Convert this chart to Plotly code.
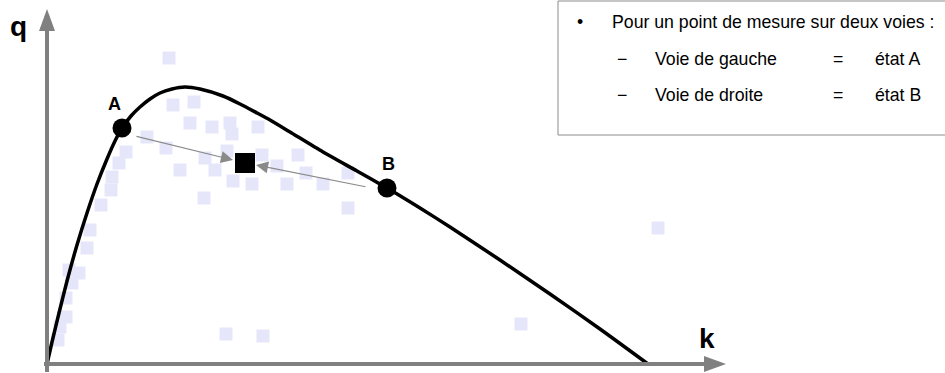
import plotly.graph_objects as go

# ---- data (k = density, q = flow) ----
curve_k = [0, 5, 12, 20, 30, 40, 50, 60, 68, 75, 84, 93, 103, 113,
           125, 138, 153, 176, 193, 210, 223, 243, 276, 310, 340, 373, 403, 453, 503, 553, 601]
curve_q = [0, 22, 51, 83, 119, 151, 180, 205, 223, 236, 248, 257, 265, 271,
           275, 277, 275, 268, 260, 251, 244, 232, 212, 193, 176, 156, 137, 104, 70, 35, 0]

meas_k = [122, 126, 147, 143, 165, 183, 185, 211, 100, 119, 79, 72, 158, 180, 133, 168, 186, 205,
          215, 230, 251, 259, 240, 276, 301, 301, 157, 65, 64, 54, 43, 40, 22, 32, 25, 19, 19, 13,
          11, 179, 216, 474, 611]
meas_q = [306, 259, 262, 241, 237, 241, 230, 237, 227, 216, 212, 201, 206, 213, 194, 194, 183, 180,
          209, 198, 209, 191, 180, 180, 191, 156, 166, 187, 174, 159, 134, 116, 94, 91, 81, 66, 47, 37,
          24, 30, 28, 40, 136]

state_labels = ["A", "B"]
state_k = [75, 340]
state_q = [236, 176]

mix_k = [198]
mix_q = [201]

legend_title = "Pour un point de mesure sur deux voies :"
legend_rows = [("Voie de gauche", "état A"), ("Voie de droite", "état B")]

# ---- helpers: pixel position -> data coordinates (layout placement only) ----
def X(px):
    return px - 47

def Y(py):
    return 364 - py

FONT = "Liberation Sans, Arial, sans-serif"
GRAY = "#808080"

fig = go.Figure()

fig.add_trace(go.Scatter(
    x=meas_k, y=meas_q, mode="markers",
    marker=dict(symbol="square", size=13, color="#e6e6fa", line=dict(width=0)),
    hoverinfo="skip"))

fig.add_trace(go.Scatter(
    x=curve_k, y=curve_q, mode="lines",
    line=dict(color="black", width=3.5, shape="spline", smoothing=0.6),
    hoverinfo="skip"))

fig.add_trace(go.Scatter(
    x=state_k, y=state_q, mode="markers",
    marker=dict(symbol="circle", size=19, color="black"),
    hoverinfo="skip"))

fig.add_trace(go.Scatter(
    x=mix_k, y=mix_q, mode="markers",
    marker=dict(symbol="square", size=20, color="black"),
    hoverinfo="skip"))

shapes = []
# axes
shapes.append(dict(type="line", x0=X(47), y0=Y(372), x1=X(47), y1=Y(28),
                   line=dict(color=GRAY, width=4)))
shapes.append(dict(type="line", x0=X(44), y0=Y(364), x1=X(708), y1=Y(364),
                   line=dict(color=GRAY, width=4)))
shapes.append(dict(type="path",
                   path=f"M {X(47)},{Y(9)} L {X(39)},{Y(31)} L {X(55)},{Y(31)} Z",
                   fillcolor=GRAY, line=dict(width=0)))
shapes.append(dict(type="path",
                   path=f"M {X(726)},{Y(364)} L {X(704)},{Y(356)} L {X(704)},{Y(372)} Z",
                   fillcolor=GRAY, line=dict(width=0)))
# legend box
shapes.append(dict(type="rect", x0=X(558), y0=Y(1), x1=X(960), y1=Y(135),
                   line=dict(color="#8c8c8c", width=1), fillcolor="rgba(0,0,0,0)"))

ann = []
# axis titles
ann.append(dict(x=X(18), y=Y(26), text="<b>q</b>", showarrow=False,
                font=dict(family=FONT, size=28, color="black")))
ann.append(dict(x=X(707), y=Y(338), text="<b>k</b>", showarrow=False,
                font=dict(family=FONT, size=28, color="black")))
# state labels
for lab, kk, qq in zip(state_labels, state_k, state_q):
    ann.append(dict(x=kk, y=qq, text=f"<b>{lab}</b>", showarrow=False,
                    xshift=-8 if lab == "A" else 1, yshift=24,
                    font=dict(family=FONT, size=18, color="black")))
# arrows to the mixed measurement
ann.append(dict(x=mix_k[0] - 12, y=mix_q[0] + 3, ax=state_k[0] + 13, ay=state_q[0] - 8,
                axref="x", ayref="y", xref="x", yref="y", text="", showarrow=True,
                arrowhead=2, arrowsize=2.2, arrowwidth=1.1, arrowcolor="#8a8a8a"))
ann.append(dict(x=mix_k[0] + 11, y=mix_q[0] - 2, ax=state_k[1] - 20, ay=state_q[1] + 1,
                axref="x", ayref="y", xref="x", yref="y", text="", showarrow=True,
                arrowhead=2, arrowsize=2.2, arrowwidth=1.1, arrowcolor="#8a8a8a"))
# legend text
lf = dict(family=FONT, size=17.7, color="black")
ann.append(dict(x=X(580), y=Y(22), text="•", showarrow=False, font=lf))
ann.append(dict(x=X(610), y=Y(22), text=legend_title, showarrow=False, xanchor="left", font=lf))
for i, (left, right) in enumerate(legend_rows):
    yy = Y(59 + 36 * i)
    ann.append(dict(x=X(622), y=yy, text="−", showarrow=False, font=lf))
    ann.append(dict(x=X(653), y=yy, text=left, showarrow=False, xanchor="left", font=lf))
    ann.append(dict(x=X(838), y=yy, text="=", showarrow=False, font=lf))
    ann.append(dict(x=X(873), y=yy, text=right, showarrow=False, xanchor="left", font=lf))

fig.update_layout(
    width=945, height=373,
    margin=dict(l=0, r=0, t=0, b=0),
    paper_bgcolor="white", plot_bgcolor="white",
    showlegend=False,
    xaxis=dict(range=[X(0), X(945)], visible=False, fixedrange=True),
    yaxis=dict(range=[Y(373), Y(0)], visible=False, fixedrange=True),
    shapes=shapes, annotations=ann,
)

fig.write_html("out.html", config={"displayModeBar": False},
               post_script="document.body.style.margin='0px';document.body.style.overflow='hidden';")
